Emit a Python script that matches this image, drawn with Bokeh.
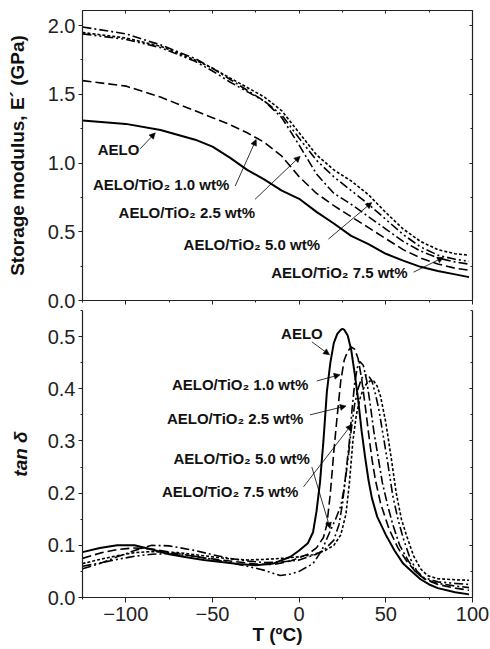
from bokeh.plotting import figure
from bokeh.layouts import column
from bokeh.models import (LinearAxis, SingleIntervalTicker, PrintfTickFormatter,
                          Label, Arrow, NormalHead, Range1d)
from bokeh.embed import file_html
from bokeh.resources import INLINE

FONT = "Liberation Sans"

# ---------------- data: storage modulus E' (GPa) vs T (C) ----------------
T_E = [-125, -100, -80, -60, -50, -40, -30, -20, -10, 0, 10, 20, 30, 40, 50, 60, 70, 80, 90, 98]
E_aelo = [1.31, 1.285, 1.24, 1.17, 1.12, 1.04, 0.95, 0.88, 0.80, 0.74, 0.645, 0.56, 0.47, 0.41, 0.34, 0.29, 0.245, 0.215, 0.19, 0.17]
E_10 = [1.60, 1.56, 1.48, 1.38, 1.33, 1.28, 1.22, 1.15, 1.05, 0.90, 0.78, 0.69, 0.61, 0.53, 0.45, 0.37, 0.31, 0.265, 0.235, 0.22]
E_25 = [1.99, 1.94, 1.86, 1.76, 1.69, 1.61, 1.53, 1.45, 1.33, 1.13, 0.92, 0.78, 0.70, 0.61, 0.52, 0.43, 0.36, 0.31, 0.28, 0.265]
E_50 = [1.94, 1.90, 1.84, 1.74, 1.67, 1.59, 1.52, 1.45, 1.35, 1.18, 1.02, 0.90, 0.80, 0.70, 0.59, 0.48, 0.39, 0.33, 0.30, 0.285]
E_75 = [1.95, 1.91, 1.85, 1.75, 1.69, 1.62, 1.55, 1.48, 1.38, 1.22, 1.06, 0.95, 0.87, 0.77, 0.64, 0.52, 0.43, 0.37, 0.34, 0.33]

# ---------------- data: tan delta vs T (C) ----------------
T_aelo = [-125, -115, -105, -95, -85, -75, -65, -55, -45, -35, -25, -15, -5, 0, 5, 8, 10, 12, 14, 16, 18, 20, 22,
          24, 25, 26, 28, 30, 32, 34, 36, 38, 40, 42, 45, 50, 55, 60, 65, 70, 75, 80, 90, 98]
tan_aelo = [0.087, 0.095, 0.100, 0.100, 0.092, 0.083, 0.077, 0.072, 0.068, 0.064, 0.062, 0.065, 0.078, 0.090, 0.104,
            0.125, 0.165, 0.22, 0.30, 0.395, 0.45, 0.488, 0.505, 0.513, 0.515, 0.513, 0.502, 0.475, 0.43, 0.38, 0.32,
            0.27, 0.225, 0.19, 0.155, 0.12, 0.09, 0.065, 0.05, 0.035, 0.025, 0.018, 0.01, 0.006]

T_10 = [-125, -115, -105, -95, -85, -70, -55, -40, -25, -15, -5, 5, 10, 14, 16, 18, 20, 22, 24, 26, 28, 30, 32, 34,
        36, 38, 40, 42, 44, 47, 52, 57, 62, 67, 72, 80, 90, 98]
tan_10 = [0.075, 0.085, 0.092, 0.095, 0.093, 0.084, 0.076, 0.070, 0.064, 0.063, 0.070, 0.083, 0.095, 0.115, 0.14,
          0.20, 0.28, 0.35, 0.415, 0.455, 0.472, 0.48, 0.476, 0.458, 0.42, 0.37, 0.316, 0.265, 0.225, 0.18, 0.13,
          0.095, 0.07, 0.05, 0.036, 0.025, 0.018, 0.014]

T_25 = [-125, -115, -105, -95, -85, -75, -60, -50, -40, -30, -20, -10, 0, 10, 15, 20, 23, 25, 27, 29, 30.5, 32,
        33.5, 35, 37, 39, 41, 43, 46, 48, 51, 54, 58, 63, 68, 72, 80, 90, 98]
tan_25 = [0.055, 0.065, 0.078, 0.090, 0.100, 0.099, 0.090, 0.082, 0.075, 0.070, 0.067, 0.068, 0.072, 0.083, 0.093,
          0.11, 0.14, 0.18, 0.24, 0.30, 0.36, 0.41, 0.44, 0.452, 0.445, 0.415, 0.37, 0.32, 0.26, 0.22, 0.177, 0.14,
          0.10, 0.07, 0.047, 0.036, 0.027, 0.022, 0.019]

T_50 = [-125, -115, -105, -95, -85, -75, -60, -45, -30, -20, -11, -5, 0, 8, 13, 18, 21, 24, 26, 28, 30, 32, 34, 36,
        38, 40, 42, 44, 46, 48, 51, 54, 57, 60, 64, 68, 72, 80, 90, 98]
tan_50 = [0.060, 0.066, 0.073, 0.079, 0.083, 0.084, 0.079, 0.070, 0.060, 0.052, 0.042, 0.045, 0.050, 0.065, 0.09,
          0.128, 0.15, 0.175, 0.21, 0.26, 0.32, 0.37, 0.40, 0.42, 0.427, 0.425, 0.415, 0.39, 0.36, 0.32, 0.26, 0.195,
          0.15, 0.114, 0.075, 0.05, 0.038, 0.03, 0.027, 0.025]

T_75 = [-125, -115, -105, -95, -85, -70, -55, -40, -30, -20, -10, 0, 8, 15, 20, 24, 27, 29, 31, 33, 35, 37, 39, 41,
        43, 45, 47, 50, 53, 56, 59, 62, 66, 70, 74, 80, 90, 98]
tan_75 = [0.065, 0.073, 0.080, 0.086, 0.088, 0.086, 0.080, 0.074, 0.072, 0.073, 0.075, 0.078, 0.082, 0.09, 0.10,
          0.12, 0.16, 0.22, 0.30, 0.35, 0.38, 0.40, 0.41, 0.415, 0.415, 0.405, 0.385, 0.335, 0.27, 0.20, 0.15, 0.118,
          0.08, 0.055, 0.042, 0.036, 0.034, 0.033]

# ---------------- labels ----------------
series_names = ["AELO", "AELO/TiO\u2082 1.0 wt%", "AELO/TiO\u2082 2.5 wt%",
                "AELO/TiO\u2082 5.0 wt%", "AELO/TiO\u2082 7.5 wt%"]
x_ticks_step = 50
x_label = "T (\u00baC)"
y1_label = "Storage modulus, E\u00b4 (GPa)"
y2_label = "tan \u03b4"

# annotation anchors (data coordinates): label x, label y, arrow start/end
top_lab_x = [-104.2, -119.0, -104.2, -66.7, -16.1]
top_lab_y = [1.10, 0.846, 0.64, 0.41, 0.206]
top_arr = [(-91.7, 1.104, -83.0, 1.22), (-36.9, 0.833, -24.8, 1.172), (-25.4, 0.737, 0.6, 1.05),
           (16.9, 0.447, 41.9, 0.713), (66.0, 0.206, 83.2, 0.314)]
bot_lab_x = [1.6, -73.4, -76.3, -72.5, -79.2]
bot_lab_y = [0.506, 0.408, 0.343, 0.266, 0.2025]
bot_arr = [(7.3, 0.49, 17.5, 0.465), (10.2, 0.415, 23.6, 0.427), (6.3, 0.35, 27.1, 0.367),
           (7.3, 0.25, 17.9, 0.132), (2.5, 0.212, 30.4, 0.332)]

dashes = ["solid", "9 4", "9 3 2 3", "9 3 2 3 2 3", "3 2"]
widths = [2.0, 1.6, 1.6, 1.6, 1.6]

AX = "#222222"


def base_axis(ax, ticker, tick_out=4, tick_in=0, labels=True, fmt=None, size="20px"):
    ax.ticker = ticker
    ax.axis_line_color = AX
    ax.axis_line_width = 1.2
    ax.major_tick_line_color = AX
    ax.minor_tick_line_color = AX
    ax.major_tick_out = tick_out
    ax.major_tick_in = tick_in
    ax.minor_tick_out = 2 if tick_out else 0
    ax.minor_tick_in = 2 if tick_in else 0
    if fmt is not None:
        ax.formatter = fmt
    if labels:
        ax.major_label_text_font = FONT
        ax.major_label_text_font_size = size
        ax.major_label_text_color = "#222222"
        ax.major_label_standoff = 3
    else:
        ax.major_label_text_font_size = "0px"
        ax.major_label_text_color = None
        ax.major_label_standoff = 0


def make_fig(yr, fh, mb_top, mb_bottom):
    p = figure(frame_width=390, frame_height=fh, x_range=Range1d(-125, 100), y_range=yr,
               output_backend="svg", toolbar_location=None,
               min_border_left=82, min_border_right=18, min_border_top=mb_top, min_border_bottom=mb_bottom)
    p.grid.visible = False
    p.outline_line_color = None
    p.background_fill_color = "white"
    return p


# ---------------- top panel ----------------
p1 = make_fig(Range1d(0, 2.11), 290, 10, 10)
base_axis(p1.yaxis[0], SingleIntervalTicker(interval=0.5, num_minor_ticks=2), fmt=PrintfTickFormatter(format="%.1f"))
p1.yaxis[0].axis_label = y1_label
p1.yaxis[0].axis_label_text_font = FONT
p1.yaxis[0].axis_label_text_font_size = "19px"
p1.yaxis[0].axis_label_text_font_style = "bold"
p1.yaxis[0].axis_label_text_color = "#111111"
p1.yaxis[0].axis_label_standoff = 17
base_axis(p1.xaxis[0], SingleIntervalTicker(interval=x_ticks_step, num_minor_ticks=2), labels=False)
ra1 = LinearAxis()
base_axis(ra1, SingleIntervalTicker(interval=0.5, num_minor_ticks=2), tick_out=0, tick_in=3, labels=False)
p1.add_layout(ra1, "right")
ta1 = LinearAxis()
base_axis(ta1, SingleIntervalTicker(interval=x_ticks_step, num_minor_ticks=2), tick_out=0, tick_in=3, labels=False)
p1.add_layout(ta1, "above")

for ys, d, w in zip([E_aelo, E_10, E_25, E_50, E_75], dashes, widths):
    p1.line(T_E, ys, line_color="black", line_width=w, line_dash=d)

# ---------------- bottom panel ----------------
p2 = make_fig(Range1d(0, 0.55), 287, 0, 0)
base_axis(p2.yaxis[0], SingleIntervalTicker(interval=0.1, num_minor_ticks=2), fmt=PrintfTickFormatter(format="%.1f"))
p2.yaxis[0].axis_label = y2_label
p2.yaxis[0].axis_label_text_font = FONT
p2.yaxis[0].axis_label_text_font_size = "19px"
p2.yaxis[0].axis_label_text_font_style = "bold italic"
p2.yaxis[0].axis_label_text_color = "#111111"
p2.yaxis[0].axis_label_standoff = 14
base_axis(p2.xaxis[0], SingleIntervalTicker(interval=x_ticks_step, num_minor_ticks=2), tick_out=5)
p2.xaxis[0].major_label_standoff = 4
p2.xaxis[0].axis_label = x_label
p2.xaxis[0].axis_label_text_font = FONT
p2.xaxis[0].axis_label_text_font_size = "19px"
p2.xaxis[0].axis_label_text_font_style = "bold"
p2.xaxis[0].axis_label_text_color = "#111111"
p2.xaxis[0].axis_label_standoff = 0
ra2 = LinearAxis()
base_axis(ra2, SingleIntervalTicker(interval=0.1, num_minor_ticks=2), tick_out=0, tick_in=3, labels=False)
p2.add_layout(ra2, "right")

for xs, ys, d, w in zip([T_aelo, T_10, T_25, T_50, T_75], [tan_aelo, tan_10, tan_25, tan_50, tan_75], dashes, widths):
    p2.line(xs, ys, line_color="black", line_width=w, line_dash=d)

# ---------------- annotations ----------------
def annotate(p, lab_x, lab_y, arrows):
    for i, (name, lx, ly) in enumerate(zip(series_names, lab_x, lab_y)):
        p.add_layout(Label(x=lx, y=ly, text=name, text_font=FONT, text_font_size="15px",
                           text_font_style="bold", text_color="#111111",
                           text_align="center" if i == 0 else "left", text_baseline="middle"))
    for (xs, ys, xe, ye) in arrows:
        p.add_layout(Arrow(end=NormalHead(size=6, fill_color="black", line_color="black", line_width=0.5),
                           x_start=xs, y_start=ys, x_end=xe, y_end=ye, line_width=0.8, line_color="black"))


annotate(p1, top_lab_x, top_lab_y, top_arr)
annotate(p2, bot_lab_x, bot_lab_y, bot_arr)

layout = column(p1, p2, spacing=0)
open("out.html", "w").write(file_html(layout, INLINE))
